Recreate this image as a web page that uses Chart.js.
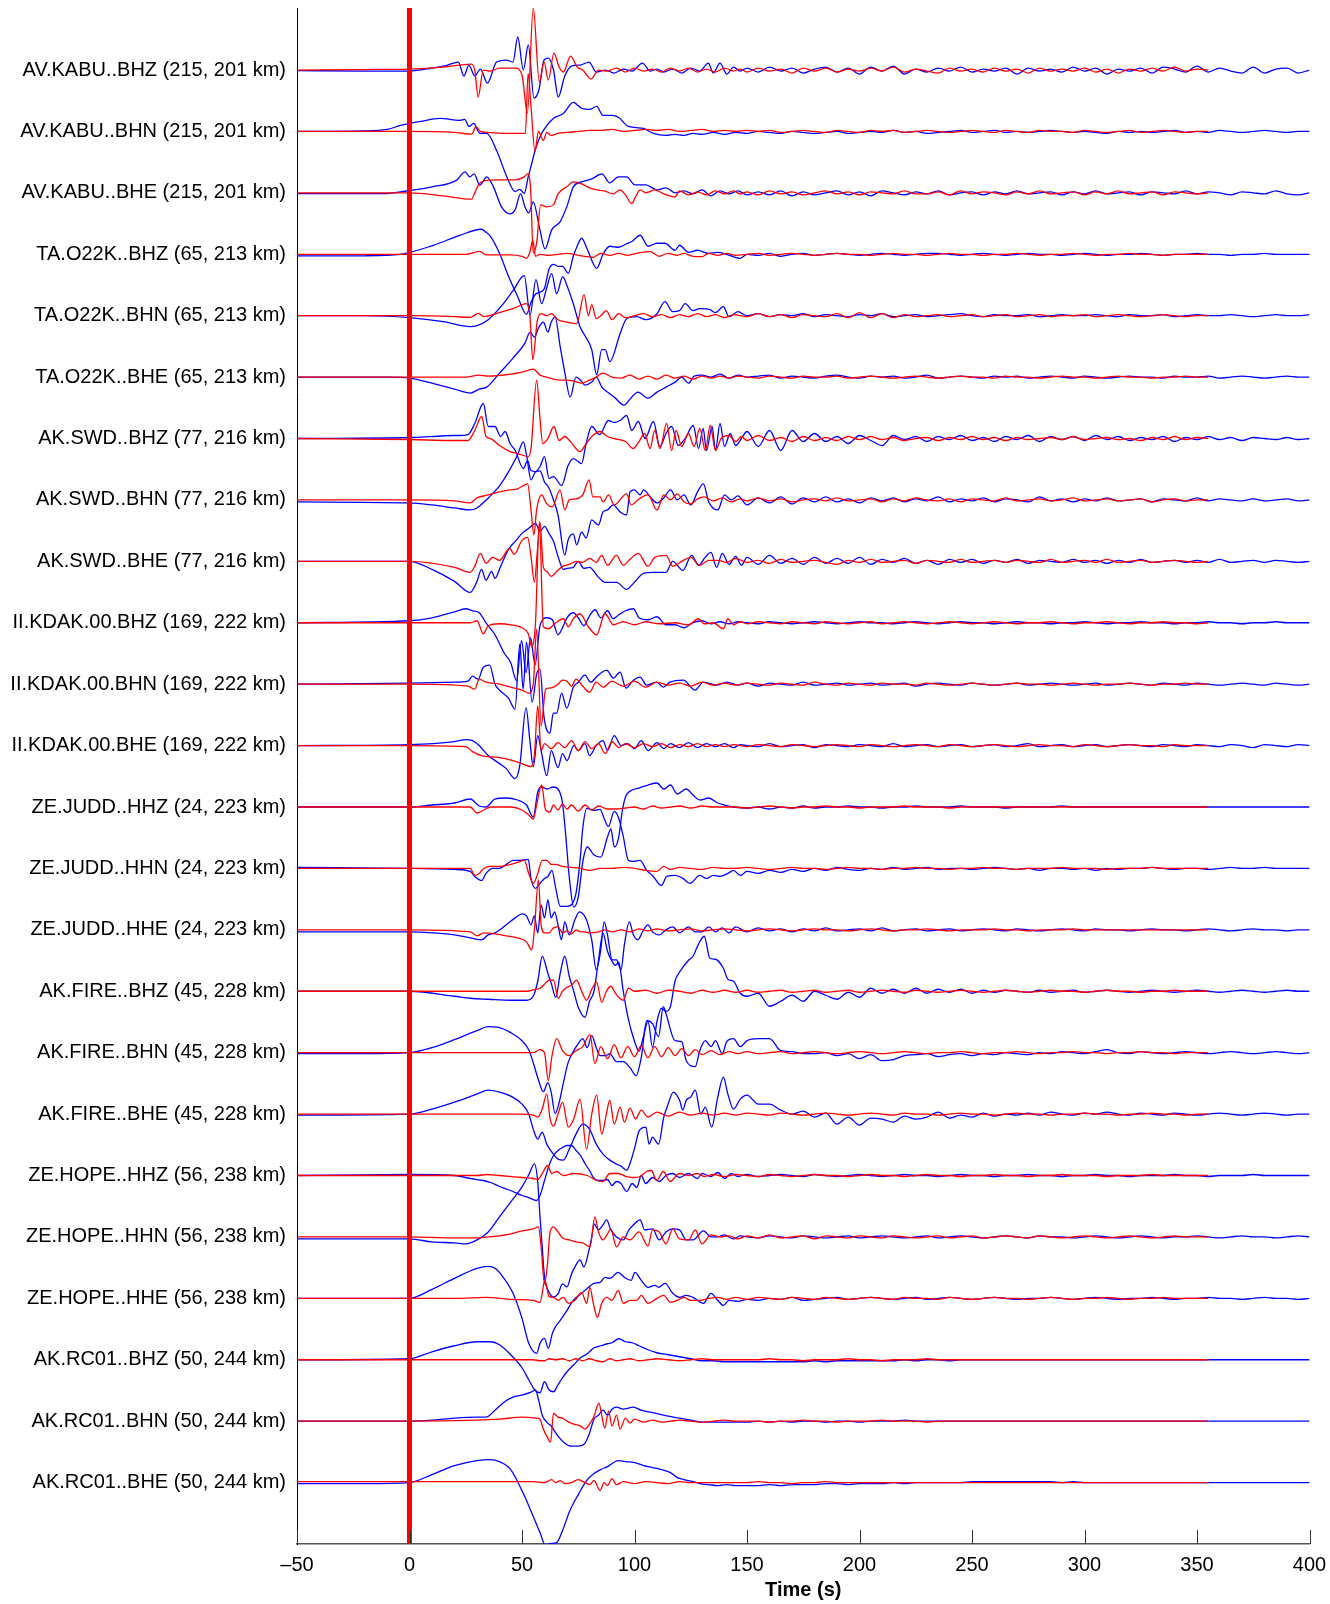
<!DOCTYPE html>
<html>
<head>
<meta charset="utf-8">
<title>Waveform comparison</title>
<script src="https://cdn.jsdelivr.net/npm/chart.js@4.4.0/dist/chart.umd.min.js"></script>
<style>
  html, body { margin: 0; padding: 0; background: #fff; }
  #wrap { width: 1330px; height: 1604px; }
</style>
</head>
<body>
<div id="wrap"><canvas id="traces" width="1330" height="1604"></canvas></div>
<script>
// station labels, top to bottom
const STATIONS = [
  'AV.KABU..BHZ (215, 201 km)', 'AV.KABU..BHN (215, 201 km)', 'AV.KABU..BHE (215, 201 km)',
  'TA.O22K..BHZ (65, 213 km)', 'TA.O22K..BHN (65, 213 km)', 'TA.O22K..BHE (65, 213 km)',
  'AK.SWD..BHZ (77, 216 km)', 'AK.SWD..BHN (77, 216 km)', 'AK.SWD..BHE (77, 216 km)',
  'II.KDAK.00.BHZ (169, 222 km)', 'II.KDAK.00.BHN (169, 222 km)', 'II.KDAK.00.BHE (169, 222 km)',
  'ZE.JUDD..HHZ (24, 223 km)', 'ZE.JUDD..HHN (24, 223 km)', 'ZE.JUDD..HHE (24, 223 km)',
  'AK.FIRE..BHZ (45, 228 km)', 'AK.FIRE..BHN (45, 228 km)', 'AK.FIRE..BHE (45, 228 km)',
  'ZE.HOPE..HHZ (56, 238 km)', 'ZE.HOPE..HHN (56, 238 km)', 'ZE.HOPE..HHE (56, 238 km)',
  'AK.RC01..BHZ (50, 244 km)', 'AK.RC01..BHN (50, 244 km)', 'AK.RC01..BHE (50, 244 km)'
];
const X_TICKS = [-50, 0, 50, 100, 150, 200, 250, 300, 350, 400];

// amplitudes are read in pixels (up = positive) and one trace slot is 61.4 px
const SLOT_PX = 61.4;
// early part of each trace: [t, amp, t, amp, ...]; coda: one value every 5 s from 150 s
const TAIL_T0 = 150, TAIL_DT = 5;
const BLUE_END = 400, RED_END = 355;

// --- AV.KABU ---
const b0 = [-50,-0.5, -20,-1, 0,-1, 10,2, 17,5, 21.7,8, 24.2,-6, 26.4,5, 29,-6, 31.5,1, 34.6,-13, 38.7,8, 43,10, 46,8, 48.1,33, 50.6,0, 52.8,25, 55.3,-28, 57.5,-20, 59.8,10, 61.7,12, 64,0, 66.1,-27, 69,-6, 72,4, 76,5, 79.8,8, 83,-2, 87,0, 91,-3, 95,1, 99,-1, 103.5,7, 107,-1, 110,1, 113,-2, 117,1, 121,-3, 125,2, 129,-1, 132.8,7, 135,-3, 138,7, 141,-4, 144,3, 147,-1];
const b0t = [2,-2,3,-1,2,-3,1,3,-2,2, -4,3,-1,4,-4,1,-2,2,-1,3, -2,1,-1,2,-4,2,-1,1,-2,3, -1,2,-4,1,-1,2,-3,3,1,-2, 4,-2,2,-1,-3,3,-3,1,2,-3, 0];
const r0 = [-50,0, -20,0.5, 0,1, 15,3, 27.5,6, 29,0, 30.5,-27, 32.8,0, 36,-1, 40,2, 47,2, 50,-5, 52.4,-43, 55,62, 57.7,-12, 59.8,8, 61.7,-10, 64.2,17, 66.5,3, 68.4,-2, 71.6,14, 74.5,3, 77,0, 80.7,-9, 84,0, 88,-1, 92,2, 96,-2, 100,2, 104,-1, 108,1, 112,-2, 116,2, 120,-1, 124,2, 128,-2, 132,1, 136,-2, 140,2, 144,-1, 147,1];
const r0t = [-2,2,-1,1,-3,2,-1,2,-2,1, -1,2,-1,3,-2,1,-1,-3,2,-1, 1,-2,2,-1,1,-3,2,-1,1,-1, 2,-2,1,-3,1,-1,2,-1,3,-1, 1,0];

const b1 = [-50,0, -20,0.5, -10,2, -4,6, 5,10, 13.6,13, 22.4,11, 24.5,12, 26.5,5, 28.5,8, 31.3,-2, 34.3,-2, 38.7,-19, 43.2,-45, 46.9,-60, 49,-58, 51,-62, 52.8,-45, 54,-35, 55.8,-19, 57.5,-8, 59.5,1, 63.9,13, 68.4,18, 72.8,29, 76.5,23, 80,22, 83.2,25, 86,16, 90,16, 93,14, 96.5,6, 100,4, 104,3, 108.4,-2, 114,-4, 118,-3, 122,-4, 126,-2, 130,-3, 135,-1, 140,-3, 145,-1];
const b1t = [-2,0,-1,-2,0,-1,-2,-1,0,-2, -1,0,-1,1,-1,0,-2,-1,0,1, -1,0,1,-1,0,-1,0,1,0,-1, 0,-1,-2,0,-1,0,-1,0,1,-1, 0,-1,1,0,-1,0,1,0,-1,0, 0];
const r1 = [-50,0, 0,0, 20,-1, 27.6,-2.7, 29.6,4.7, 31.5,0, 35,-1, 45,-2, 51.5,-2, 52.7,58, 54,25, 55.8,-20, 57.3,0, 59.5,-9, 61,-1, 63,-4, 66,-2, 70,-1, 75,0, 80,1, 85,1, 90,2, 95,0, 100,1, 105,2, 110,1, 115,2, 120,0, 125,1, 130,2, 135,0, 140,1, 145,0];
const r1t = [1,0,1,-1,0,1,0,-1,1,0, -1,1,0,1,-1,0,1,0,-1,0, 1,0,-1,1,0,-1,1,0,0,-1, 1,0,-1,0,1,-1,0,1,0,-1, 0,0];

const b2 = [-50,-0.7, -10,-0.7, -4,1, 10,6, 21,12.7, 24.7,21, 26.8,16, 28.7,19, 31.3,7.7, 34.3,16, 37.3,6, 40.9,-14, 44.7,-21, 46.9,-17, 49.4,-1, 51.3,-14, 53,-20, 55,-9, 57.7,-34, 60.2,-56, 63.2,-37, 66.9,-29, 69.9,-14, 72.8,6, 76.5,11, 81,14, 85.5,19, 89,10, 92.8,16, 96.5,16, 100.2,8, 105,8, 110,3, 114,5, 118,0, 122,2, 126,-1, 130,3, 134,-3, 138,2, 142,-1, 146,2];
const b2t = [-2,1,-2,2,-3,1,-2,0,2,-2, 1,-3,2,0,-2,1,-1,2,-2,0, 1,-2,1,-1,2,-1,0,1,-2,1, -1,2,-1,0,1,-2,1,0,-1,2, -1,1,0,-2,1,0,-1,2,-1,-2, 0];
const r2 = [-50,0, 0,0, 15,-3, 27.6,-6.3, 29,0, 30.6,7.7, 33,12, 40,13, 47,13, 51,16, 52.5,19, 53.8,5, 55,-60, 56.5,-50, 58.3,-12, 61,-14, 64,-12, 66,-1, 69.9,6, 72.8,11, 76.5,9, 80,5, 83.2,3, 86.5,2, 90.6,-1, 93.5,3, 96,-2, 98.7,-10.7, 100.5,-4, 102.5,3, 105,0, 109,3, 113,-1, 118,-4, 120,2, 124,-2, 128,1, 132,-2, 136,2, 140,-1, 144,2, 147,-1];
const r2t = [1,-2,2,-1,1,-2,0,2,-1,1, -2,1,0,-1,2,-1,-1,1,-2,2, -1,1,0,-2,1,-1,2,-1,0,1, -2,1,-1,2,-1,0,1,-2,1,0, -1,0];

// --- TA.O22K ---
const b3 = [-50,-1.7, -20,-1.5, -4,0, 10.6,9, 22.4,19, 32,25, 34,22, 36,18, 40,1, 44,-22, 48,-42, 52,-60, 54,-48, 56,-40, 58,-38, 60,-34, 62,-15, 64,-10, 66,-12, 68,-12, 70.6,-19, 72.8,-2, 74.5,8, 76.5,16, 79,5, 83.2,-14, 86,0, 89,8, 92.8,7, 96,10, 99,13, 102.5,19, 106,8, 110,11, 113.5,11, 118,4, 120,9, 124,2, 128,4, 133,1, 137,2, 141,0, 147,-4];
const b3t = [0,-1,1,-2,0,1,-1,0,1,0, -1,0,1,0,-1,0,1,1,0,-1, 0,1,0,-1,0,1,0,0,-1,0, 1,0,-1,0,0,1,0,-1,0,0, 1,0,0,-1,0,0,1,0,0,0, 0];
const r3 = [-50,0, 0,0, 25,0, 31.3,3, 34,-0.5, 45,-0.5, 50,-2, 52,-4, 53.5,2, 54.8,14, 56,-2, 58,0, 62,-1, 66,0, 70,1, 75,-1, 78,-2, 81.7,-3, 85,1, 89,-1, 93,1, 97,-1, 101,1, 107,2.7, 111,-2, 115,1, 119,-1, 122,1, 126,-2, 130,-2.3, 133,1, 137,-1, 141,1, 145,-1];
const r3t = [0,1,-1,0,1,0,-1,0,1,0, 0,-1,0,1,0,0,-1,0,1,0, 0,-1,0,0,1,0,-1,0,0,1, 0,-1,0,0,1,0,0,-1,0,0, 0,0];

const b4 = [-50,0, -20,0, 0,-2, 15,-6, 27,-11, 30,-10, 35,-4, 41,10, 46,25, 51,40, 53.6,1, 56.2,36, 58.7,12, 61,28, 63.2,42, 65.4,22, 68.1,39, 70,30, 72.8,12, 75.8,-11, 78,-20, 81,-34, 83.2,-59, 85.4,-34, 87,-34, 89,-46, 93.6,-18, 96.5,-3, 101,-1, 105,-4, 110,2, 113.5,14, 117,4, 120,5, 122.5,12, 126,5, 129,7, 133.6,6, 136,3, 139.5,9, 142,-1, 146,4];
const b4t = [0,2,-1,1,0,2,-1,1,0,-1, 1,0,2,-1,0,1,-1,0,1,2, 0,-1,1,0,0,1,-1,0,1,0, 0,1,0,-1,1,0,0,1,-1,0, 1,0,0,1,0,-1,0,1,0,0, 1];
const r4 = [-50,0, 0,0, 20,-1, 27,-1.7, 30.6,2.3, 33,-1, 40,3, 46,7, 52,12, 53.5,0, 54.8,-44, 56.8,-5, 58.5,2, 61,0, 63,2, 66,-4, 69,-6, 71,-7, 74.3,-8, 77.6,21, 79.5,0, 81,11, 83,-3, 85,0, 87.5,5, 90,-4, 93,2, 96,-2, 100,0, 104,2, 108,-1, 112,1, 116,-2, 120,1, 124,-1, 128,2, 132,-1, 136,1, 140,-2, 144,1];
const r4t = [-1,2,-1,1,-2,1,0,-1,2,-2, 3,-2,2,-2,1,-1,0,1,-1,0, 1,-1,0,1,-1,0,1,-1,0,0, 1,-1,0,1,0,-1,0,1,0,-1, 0,0];

const b5 = [-50,0, -10,0, 0,-1, 10,-6, 20,-12, 27,-16, 31,-12, 34.3,-10, 40,4, 46,19, 51.3,34, 53.6,45, 55.5,40, 57.5,50, 59.5,55, 61.5,45, 63,55, 64.7,60, 67,30, 69,5, 71.4,-20, 74,0, 76,-3, 78,-8, 81,-5, 83,0, 85.5,-10, 88,-15, 91,-20, 95.4,-28, 98,-22, 101.5,-15, 106,-21, 110,-15, 114,-10, 118,-5, 121,0, 124,-6, 126.5,1, 130,2, 134,0, 138,3, 142,-1, 146,2];
const b5t = [0,1,2,-1,1,0,-1,1,2,0, -1,1,0,1,-1,0,2,-1,0,1, 0,-1,1,0,1,-1,0,1,0,-1, 1,0,-1,0,1,0,0,-1,1,0, 0,1,-1,0,1,0,-1,0,1,0, 0];
const r5 = [-50,0, 0,0, 25,0, 31,2, 35,1, 45,3, 50,5, 55,8, 58,2, 61,0, 64,-2, 67,-3, 70,-3, 73,-4, 76.5,-6, 80,-3, 83,0, 86,4, 90,0, 94,-1, 98,2, 102,-2, 106,1, 110,-2, 114,2, 118,-1, 122,1, 126,-2, 130,1, 134,-1, 138,1, 142,-1, 146,1];
const r5t = [0,-1,1,0,-1,1,0,0,1,-1, 0,1,0,-1,0,1,0,-1,0,1, 0,0,-1,1,0,0,-1,0,1,0, 0,-1,0,1,0,0,-1,0,0,1, 0,0];

// --- AK.SWD ---
const b6 = [-50,0, 0,1, 20,3, 26,4, 29,15, 32.8,35, 35,12, 38,12, 40.5,2, 42.5,7, 44.7,-5, 47,-12, 50.6,-30, 52.5,-22, 54,-32, 56,-33, 58,-28, 60,-18, 62,-40, 64,-38, 67.6,-47, 70.5,-27, 72.8,-20, 76.5,-25, 78.5,-5, 81,12, 84.5,4, 88.4,18, 91,16, 93.6,18, 96.5,23, 98.8,8, 101.7,17, 104.7,0, 108.4,17, 111.3,-8, 114,5, 116.5,12, 119.5,-7, 122.5,0, 126.1,13, 128.5,-10, 130.5,10, 132,-12, 134.5,12, 136,-12, 138,15, 140,-8, 142.5,5, 145,-7, 147.5,0];
const b6t = [7,-8,8,-12,8,-3,5,-3,2,-5, 3,-2,-7,3,-1,2,-3,2,-1,3, -2,1,-3,2,-1,3,-3,2,-1,2, -2,3,-1,2,-2,1,-1,2,-3,1, -1,2,-1,1,-2,1,0,-1,1,-1, 0];
const r6 = [-50,0, 0,-1, 20,-2, 26,-2, 29,8, 32.1,22, 34,2, 36,0, 40,-7, 44.7,-13, 48,-15, 52.8,-18, 54,-10, 56.5,58, 58,20, 59.2,-5, 61.5,0, 64.2,12, 66.5,-2, 69,2, 71.5,-3, 75.8,-13, 78,-7, 81,2, 84.7,7, 88,2, 91,0, 96,-3, 99.5,-10, 102,-3, 104.5,5, 106.9,-10, 109,8, 111.3,-10, 114.3,15, 116.5,-12, 118.5,8, 121,-8, 124,5, 126.5,-8, 129,10, 131.5,-12, 133.6,13, 136,-12, 138.5,0, 142,3, 145,-3, 147.5,2];
const r6t = [-2,3,-2,1,-3,2,-2,1,-2,2, -1,2,-1,1,-2,0,1,-2,1,-1, 2,-1,1,-2,1,-1,0,1,-1,2, -1,0,1,-1,0,-2,1,-1,2,-1, 1,0];

const b7 = [-50,-2, 0,-3, 10,-5, 20,-8, 27,-10, 30,-8, 35,2, 40,14, 44,28, 48,45, 50.6,58, 52,45, 54,20, 56,28, 58,29, 60,18, 62,12, 64,0, 66,-15, 69,-55, 70.5,-40, 72.8,-34, 74.3,-45, 76.5,-32, 78.5,-38, 81,-20, 84,-25, 86,-12, 88,-10, 90.5,-5, 93.6,-12, 96.5,-15, 98,8, 100,10, 102.5,5, 104,10, 107,3, 110,-3, 113,2, 116,10, 119,0, 122,5, 125,-5, 128,8, 130.6,16, 133,-2, 137,-10, 140,5, 143,0, 146,4];
const b7t = [-5,2,-3,3,-4,2,-2,3,-2,1, -3,2,-1,2,-2,1,-1,3,-2,1, -1,2,-2,1,0,-2,3,-1,1,-2, 1,-1,2,-1,0,1,-2,1,0,-1, 2,-1,1,0,-1,1,-1,0,1,-1, 0];
const r7 = [-50,0, 0,0, 20,-1, 27,-3, 30,2, 35,5, 40,8, 44.7,10, 48,11, 52.5,16, 54,-10, 55.3,-35, 56.5,-10, 58.7,5, 61,-4, 63.5,-7, 66.9,10, 69,-10, 71,0, 73.5,1, 77,5, 79.8,20, 81.5,3, 84.7,3, 86,-2, 88.5,5, 91,-5, 96.5,6, 98.5,-5, 102,1, 106,5, 110,-10, 113,5, 116,0, 119,6, 122,-2, 125,-4, 128,1, 131,3, 135,-1, 139,2, 143,-2, 147,1];
const r7t = [-1,2,-1,1,-2,0,1,-1,2,-1, 0,1,-2,1,-1,2,0,-1,1,-2, 1,0,-1,2,-1,0,1,-1,0,2, -1,0,1,-1,0,1,-2,0,1,-1, 0,0];

const b8 = [-50,0, 0,0, 10,-8, 20,-20, 27,-31, 30,-20, 32,-8, 34,-19, 36.5,-10, 38,-17, 40.5,-5, 44,12, 47,20, 50,28, 53,33, 56,38, 58,30, 60,35, 62,28, 64,20, 66,5, 68.4,-8, 70,-7, 72.8,-6, 75,0, 77.5,-7, 80,-6, 84,-16, 87,-21, 92,-21, 96.5,-28, 99.5,-22, 104,-12, 108.5,-11, 114,-11, 117,0, 121.5,-9, 125.4,6, 128.5,-4, 131.4,4, 134,9, 136.5,-6, 139,8, 142,-3, 145,5, 147.5,-4];
const b8t = [4,-3,6,-2,3,-3,4,-2,3,-2, 4,-3,2,-1,3,-2,1,-3,2,-1, 2,-2,1,-1,2,-2,1,0,-1,2, -1,1,-2,1,-1,2,-1,0,1,-1, 1,-1,2,-1,0,1,-1,1,0,-1, 0];
const r8 = [-50,0, 0,0, 20,-6, 27,-11, 29,-5, 31.5,8, 34,-2, 37,4, 40,1, 44.5,13, 46.5,7, 50,21, 52.5,24, 54,5, 55.5,-21, 56.8,10, 58,39, 59.5,-6, 61,-10, 63,-15, 65.5,-10, 68,-5, 71,-3, 74,0, 77,-1, 80,3, 83,-1, 85.4,6, 88,-4, 92,6, 95,-4, 98,2, 101.7,8, 106,-5, 109,4, 114,6, 117,-5, 121,0, 125,4, 129,-4, 133,1, 137,1, 141,-1, 145,3];
const r8t = [-1,1,-2,2,-1,0,1,-1,-3,1, -1,2,-1,0,1,-2,1,0,-1,2, -1,0,1,-1,1,0,-1,2,-1,0, 1,-1,2,-1,0,1,-1,0,1,0, -1,0];

// --- II.KDAK ---
const b9 = [-50,0, 0,2, 10,5, 20,11, 25,14, 28,12, 31,10, 34,0, 38,-12, 42,-30, 45,-40, 47.6,-58, 49.8,-18, 51.8,-50, 53.8,-15, 55.8,-42, 58,-3, 61,5, 63.5,3, 66,-12, 68,-5, 70,5, 72.8,10, 75,5, 77.5,-3, 80,7, 82.5,13, 85,5, 88,12, 90.5,4, 93,8, 96,12, 99.5,14, 102,5, 106,3, 110,6, 114,-2, 118,-2, 122,-5, 126,0, 130,2, 134,-1, 138,1, 142,-1, 146,1];
const b9t = [0,-1,1,0,-1,0,1,0,-1,0, 1,0,0,-1,0,1,0,-1,0,1, 0,0,-1,0,1,0,0,-1,0,0, 1,0,-1,0,0,1,0,0,-1,0, 0,1,0,0,-1,0,0,1,0,0, 0];
const r9 = [-50,0, 0,0, 27,0, 30,2, 32.8,-11, 35,-3, 40,-1, 45,-2, 50,-5, 52.8,-11, 54.3,-24, 56,0, 57.7,101, 59.5,-4, 61.7,-6, 65,0, 68.4,4, 70.6,-4, 72.8,4, 75.8,9, 79.5,-4, 83.2,-12, 86.9,9, 90.6,-2, 95,1, 100,-2, 105,1, 111,-1, 118,0, 124,-2, 128.4,4, 131,-1, 135,0, 139.5,-6, 141.5,4, 144,-2, 147,1];
const r9t = [-1,1,0,-1,1,0,-1,1,0,-1, 0,1,-1,0,1,0,-1,0,1,0, -1,0,1,0,-1,0,0,1,0,-1, 0,0,1,0,-1,0,0,1,0,0, -1,0];

const b10 = [-50,0, 0,1, 20,2, 26,3, 28,8, 30.5,5, 32.8,17, 35.6,19, 38,0, 40,-6, 44,-14, 46.9,-25, 49,40, 50.5,-5, 52,42, 54.5,-18, 56.5,10, 58,15, 59.8,-33, 62.4,-49, 63.9,-29, 65.4,-29, 67.6,-9, 69.9,-24, 72.8,-3, 75,2, 78,9, 80.5,2, 83,7, 85,11, 87.6,14, 90.6,6, 93.6,12, 96.2,-4, 99.5,4, 102.5,7, 105.4,-1, 109.8,2, 112.8,-3, 115.8,2, 121.7,4, 126.9,-6, 130.6,2, 136.5,-1, 141,2, 146,-1];
const b10t = [1,-2,1,0,-1,2,-1,0,1,-1, 0,1,-1,0,1,-2,0,1,0,-1, 1,0,-1,0,1,-1,0,1,0,-1, 0,1,-1,0,1,0,-1,1,0,-1, 1,0,-1,0,1,0,-1,1,0,-1, 0];
const r10 = [-50,0, 0,0, 26,-2, 29,-5, 31,5, 34,2, 40,0, 45,-3, 50,-6, 53,-9, 55,0, 56.5,55, 58.5,-42, 60.5,-5, 62,-4, 64,-3, 66,0, 68,4, 70,3, 72,-2, 74,5, 77,-2, 80,-8, 83,2, 86,-3, 90,3, 95,-2, 100,3, 105,-3, 110,2, 115,-1, 120,1, 125,-2, 130,2, 135,-1, 140,1, 145,-1];
const r10t = [1,0,-1,1,0,-1,2,0,-1,1, 0,-1,1,0,0,-1,1,0,-1,0, 1,0,-1,0,1,0,0,-1,0,1, 0,-1,0,0,1,0,-1,0,0,1, 0,0];

const b11 = [-50,0, 0,1, 20,4, 25,6, 28,5, 31,0, 35,-10, 40,-18, 43,-23, 46.9,-33, 49,-20, 51.8,38, 53.5,5, 55,-21, 57,10, 58.5,-5, 61,-30, 63,-5, 66,-22, 68,-8, 70,-15, 73,0, 75,-5, 78,2, 80,-10, 83,0, 86,5, 88,-5, 91,10, 94,0, 97,2, 100,-3, 103,5, 106,-5, 110,3, 113,-3, 116,2, 120,-2, 124,3, 128,-2, 132,2, 136,-1, 140,2, 144,-2, 147,1];
const b11t = [0,-1,2,-1,0,1,-2,1,0,-1, 1,0,-1,2,-1,0,1,-1,0,1, -1,0,1,-1,0,2,-1,0,1,-1, 0,1,-1,0,1,0,-1,1,0,-1, 1,0,-1,1,0,-2,1,0,-1,1, 0];
const r11 = [-50,0, 0,0, 25,-1, 28,-6, 32,-10, 40,-12, 46,-15, 50,-18, 54,-21, 55.5,-10, 57,40, 58.5,-5, 60,2, 63,-3, 66,3, 69,-2, 72,5, 75,-5, 78,4, 81,-3, 84,2, 87,-8, 90,4, 93,-2, 96,2, 100,-2, 104,2, 108,-1, 112,2, 116,-2, 120,1, 124,-1, 128,2, 132,-1, 136,1, 140,-1, 144,1];
const r11t = [-1,1,0,-1,1,0,-1,0,1,0, -1,1,0,-1,0,1,0,-1,1,0, -1,0,1,0,-1,0,1,0,0,-1, 1,0,-1,0,1,0,0,-1,1,0, 0,0];

// --- ZE.JUDD ---
const b12 = [-50,0, 0,0, 10,2, 20,4, 27,8, 31,1, 34,0, 38,8, 43,9, 48,7, 52,2, 55,-10, 57,15, 59,20, 61,18, 64,20, 66,18, 68,4, 69.5,-30, 71,-70, 73,-100, 75,-90, 77,-55, 79,-40, 82,-48, 85,-50, 88,-30, 89.5,-22, 91,-40, 93,-30, 94.5,-5, 96,10, 99,17, 102,19, 106,22, 110,24, 113,18, 116,22, 119,13, 123,18, 126,12, 129,7, 133,9, 137,4, 140,2, 144,0];
const b12t = [-1,0,-2,0,-1,1,-1,0,0,1, 0,0,-1,0,0,1,0,0,0,1, 0,0,0,-1,0,0,0,0,1,0, 0,0,0,0,0,0,0,0,0,0, 0,0,0,0,0,0,0,0,0,0, 0];
const r12 = [-50,0, 0,0, 27,0, 30,-6, 33,-3, 36,0, 45,0, 50,-3, 53,-8, 55,-12, 56.5,2, 58.7,22, 60.5,-3, 62.4,-5, 64,2, 66,-3, 68,3, 70,-2, 72,2, 75,-4, 78,2, 81,-3, 84,1, 88,-2, 92,-2, 96,-1, 100,0, 104,-2, 108,1, 112,-1, 116,0, 120,1, 125,-1, 130,1, 135,0, 140,0, 145,0];
const r12t = [-1,0,1,0,-1,0,0,1,0,0, -1,0,0,0,1,0,0,0,-1,0, 0,0,0,0,0,0,0,0,0,0, 0,0,0,0,0,0,0,0,0,0, 0,0];

const b13 = [-50,1, 0,0, 20,-1, 27,-3, 29,-8, 32.1,-12, 34,-5, 37,0, 40,0, 43,4, 46,8, 49,8, 52.8,9, 54,-10, 56,-20, 58,-15, 60,-10, 61.5,-8, 63.3,-2, 65,-20, 67,-38, 70,-38, 72.5,-35, 74,-25, 75.8,8, 77,40, 78.8,60, 82,58, 84.7,59, 86.5,50, 88.4,42, 91,57, 93,50, 95,32, 97.3,8, 99.5,7, 102.5,8, 105.4,-2, 108,-7, 112,-17, 114.3,-8, 118,-7, 121.5,-10, 124.7,-15, 129,-7, 132,-10, 135,-7, 138,-8, 141.5,-5, 144,-2, 147,-7];
const b13t = [-3,-5,-2,-4,-1,-3,0,-2,1,-1, -2,0,-1,1,-1,0,1,-1,0,0, -1,0,1,0,-1,0,-2,0,0,-1, 0,-2,0,-1,0,0,1,0,-1,0, 0,-1,0,1,0,0,1,0,0,0, 0];
const r13 = [-50,0, 0,0, 27,0, 29,-7, 31,-5, 33,0, 36,2, 40,2, 45,4, 48,6, 51,8, 53,-5, 55,-15, 57,-5, 59,8, 61,8, 63,4, 65,4, 68,2, 72,1, 76,0, 80,-2, 85,0, 90,0, 95,1, 100,0, 105,-2, 110,-3, 113,2, 116,-1, 120,1, 125,0, 130,-1, 135,1, 140,0, 145,0];
const r13t = [1,0,-1,0,1,0,0,-1,0,1, 0,0,-1,0,0,1,0,0,-1,0, 0,1,0,0,-1,0,0,0,1,0, 0,0,-1,0,0,0,1,0,0,0, 0,0];

const b14 = [-50,-2, 0,-2, 10,-3, 20,-5, 27,-8, 32,-10, 35,-5, 38,-3, 43,5, 47,12, 50,16, 52,14, 54,5, 55.5,14, 57,-3, 58.5,25, 60,12, 61.5,30, 63,12, 64.5,18, 66,5, 67.5,-10, 69,8, 71,-5, 73.5,10, 75.5,18, 77.5,15, 79,8, 81,-10, 83,-40, 85,-20, 86.5,8, 88,-5, 90,-30, 92,-30, 94,-40, 95.5,-15, 97.7,8, 99.5,-5, 101.5,-10, 104,0, 106,5, 108,-2, 111,-5, 114,0, 117,3, 120,-3, 124,3, 127,-2, 130,-2, 133,3, 136,-2, 139,2, 142,-3, 145,3];
const b14t = [-2,2,-1,1,-2,1,-1,2,-1,0, 1,-1,2,-1,0,1,-1,0,1,-1, 0,1,0,-1,1,0,-1,0,1,0, -1,1,0,0,-1,0,1,0,0,-1, 0,1,0,-1,0,1,0,0,-1,0, 0];
const r14 = [-50,0, 0,0, 27,-2, 30,-6, 33,-3, 38,-4, 43,-6, 48,-8, 52,-12, 54.3,-20, 55.5,0, 57.3,50, 58.5,5, 60,-3, 62,-3, 64,2, 66,3, 68,-3, 70,-1, 72,-4, 74,0, 76,-2, 78,-2, 80,-3, 84,-2, 87,0, 90,-2, 94,0, 98,-2, 102,1, 106,-1, 110,1, 115,-1, 120,0, 125,1, 130,-1, 135,0, 140,1, 145,0];
const r14t = [-1,0,1,0,-1,0,1,0,0,-1, 0,1,0,-1,0,0,1,0,-1,0, 0,0,1,0,0,-1,0,0,0,1, 0,0,0,0,0,0,0,0,0,0, 0,0];

// --- AK.FIRE ---
const b15 = [-50,0, 0,0, 20,-5, 27,-7, 35,-8, 45,-9, 52,-9, 55,-5, 57,10, 59,35, 61.5,18, 63,8, 65,-6, 67,18, 69,35, 71,15, 73,0, 75,-16, 78,-26, 80,-10, 82,0, 84,31, 86,58, 88,40, 90,30, 91.5,26, 93,29, 95,0, 97,-25, 100,-50, 102,-60, 104,-45, 106,-30, 108,-56, 110,-30, 112,-17, 114,-20, 116,-15, 118,10, 120,19, 124,31, 126,35, 128,45, 131,55, 133.5,33, 136,32, 139.5,23, 141.5,12, 144,10, 147,-2];
const b15t = [-5,-2,-15,-10,-4,-10,0,-4,-8,-1, -6,3,-2,2,-2,3,-2,2,-1,2, -2,1,-1,1,0,-1,1,-1,0,1, -1,0,1,0,-1,0,1,0,-1,0, 1,0,-1,0,1,0,-1,0,1,0, 0];
const r15 = [-50,0, 0,0, 40,0, 52,0, 56,2, 58,3, 60,7, 62,11, 64,11, 66.1,-7, 68,0, 70,4, 72,6, 74.3,11, 76.5,0, 78.7,-9, 81,2, 83.2,9, 85.4,-11, 87.5,0, 89.5,5, 91.5,-2, 95,-9, 97.3,3, 100,0, 105,1, 110,-2, 115,1, 120,0, 125,-2, 130,1, 135,-1, 140,1, 145,-1];
const r15t = [1,-1,0,1,-1,0,1,-1,0,1, -1,0,1,0,-1,1,0,-1,0,1, 0,-1,0,1,0,-1,0,1,0,0, -1,0,1,0,0,-1,0,0,1,0, 0,0];

const b16 = [-50,-1, -20,-1, 0,0, 10,5, 20,13, 30,22, 35,26, 40,25, 45,20, 50,12, 53,3, 55,-10, 57,-25, 59.5,-39, 61.5,-30, 63,-40, 64.7,-61, 66.5,-50, 68.4,-30, 70.5,-10, 72.5,0, 75,9, 77,14, 79,5, 81,17, 83,5, 84.7,-3, 87,-3, 89,-1, 92,-9, 95,-9, 98,-15, 100.7,-23, 103,-5, 105.4,32, 108,29, 110.7,16, 112.8,46, 114,39, 118,12, 121,11, 123,-8, 127,-14, 129,2, 131.5,12, 134,6, 136,12, 139,-1, 141,11, 144,14, 147,6];
const b16t = [12,14,14,2,1,-1,-1,0,-3,-1, -6,-2,-8,-7,-3,-2,-1,-4,-2,-1, -3,-1,-2,0,-1,-2,0,-1,1,0, -1,1,3,0,-1,1,0,-1,0,1, 0,-1,0,1,0,-1,0,1,0,-1, 0];
const r16 = [-50,0, 0,0, 40,0, 55,0, 58,3, 60,0, 61.7,-28, 63.2,-5, 65.4,14, 68,2, 71,-3, 74,2, 77,6, 80.2,18, 82.4,-11, 85,6, 88,-6, 91,8, 94,-5, 97,6, 100,-4, 103,7, 106,-5, 109,6, 112,-4, 115,5, 118,-3, 121,4, 124,-3, 127,3, 130,-2, 134,2, 138,-2, 142,1, 146,-1];
const r16t = [1,-1,0,1,-1,0,1,0,-1,0, 1,0,-1,0,1,0,-1,0,0,1, 0,-1,0,0,1,0,-1,0,0,1, 0,0,-1,0,0,1,0,0,-1,0, 0,0];

const b17 = [-50,-1, 0,0, 10,5, 20,12, 30,20, 35,24, 40,22, 45,18, 50,10, 53,0, 55,-15, 57,-25, 59,-18, 61,-30, 64,-40, 66,-45, 68.4,-46, 71,-35, 74,-20, 77,-10, 80,-15, 83,-30, 86,-40, 89,-46, 92,-50, 94,-52, 96.5,-56, 98.5,-46, 100.5,-30, 102,-17, 105,-13, 106.5,-30, 108,-23, 110.7,-30, 113,-3, 114.5,7, 117.3,22, 120,14, 121.5,4, 123,14, 125,17, 127,24, 129.5,0, 131.5,7, 134.3,-13, 137,17, 139.5,37, 141.5,20, 144,5, 147,15];
const b17t = [19,10,10,4,0,3,-3,1,-10,-3, -11,-4,-5,-8,-2,-5,-3,2,-4,-1, -3,1,-2,0,-1,1,-1,2,0,-1, 1,0,2,0,-1,1,0,-1,1,0, -1,0,1,0,-1,0,1,0,-1,0, 0];
const r17 = [-50,0, 0,0, 50,0, 55,-1, 57,-3, 59,5, 61,20, 62.5,-5, 64,-12, 66,0, 68,12, 70.6,-13, 73,-5, 75.8,15, 78.7,-35, 81,0, 83.2,19, 85.4,-20, 87.5,0, 89,14, 91,-10, 93.6,7, 95.5,-8, 98,6, 100.5,-5, 103,4, 106,-3, 110,2, 115,-2, 120,2, 125,-1, 130,1, 135,-1, 140,1, 145,-1];
const r17t = [1,0,-1,1,0,-1,0,1,0,-1, 0,1,0,-1,1,0,0,-1,0,1, 0,0,-1,0,1,0,0,-1,0,0, 1,0,0,-1,0,0,1,0,0,-1, 0,0];

// --- ZE.HOPE ---
const b18 = [-50,0, 0,1, 20,0, 27,-3, 32.8,-5, 36,-7, 40,-11, 45,-15, 50,-20, 53,-22, 56.5,-25, 58,-20, 60,-5, 62,10, 64,20, 66,25, 68,28, 70,30, 72,30, 74,25, 76,20, 78,12, 80,5, 82,-3, 84,-5, 86,-5, 88,-4, 90,-10, 92,-6, 94,-8, 96.5,-16, 99,-8, 101,-12, 103,0, 105,-8, 108,-2, 111,-6, 114,0, 117,2, 120,-2, 124,2, 128,-3, 130,2, 134,-1, 137,3, 140,-3, 143,2, 146,-1];
const b18t = [1,-1,0,1,0,-1,1,0,-1,0, 1,0,-1,0,1,0,0,-1,0,1, 0,0,-1,0,0,1,0,0,-1,0, 0,1,0,0,-1,0,0,0,1,0, 0,-1,0,0,0,1,0,0,0,0, 0];
const r18 = [-50,0, 0,0, 30,0, 34.3,1, 40,0, 50,-2, 55,-3, 57,-4, 59,2, 61.4,10, 63.2,2, 65.4,4, 68.4,0, 72.8,2, 79,0, 83.2,-5, 86,-6, 89,2, 92.8,2, 96.5,-1, 100,-2, 102.5,-1, 105.4,4, 107.5,5, 109.8,-5, 112.8,4, 115.8,-6, 120,2, 124,0, 128,2, 131,-1, 135,1, 140,-1, 145,1];
const r18t = [0,-1,1,0,-1,0,1,0,0,-1, 0,1,0,0,-1,0,1,0,0,-1, 0,0,1,0,0,-1,0,0,1,0, 0,0,-1,0,0,0,1,0,0,0, 0,0];

const b19 = [-50,-2, 0,-2, 10,-5, 20,-6, 25,-7, 30,-3, 35,5, 40,20, 45,35, 50,50, 53,62, 55.5,73, 57,55, 58,20, 59,-10, 60,-40, 62,-55, 64,-60, 66,-57, 68,-47, 70,-50, 72,-37, 74,-28, 75.8,-23, 77.5,-30, 79.8,-13, 81,0, 82,13, 84,7, 86,12, 87.6,17, 89.5,7, 92,0, 95,-3, 97.5,7, 99.5,12, 102.5,17, 104.5,7, 108,8, 111,-3, 114,5, 117,8, 120,7, 123,-3, 126,-3, 130.6,6, 134,0, 137,0, 140,2, 144,-2, 147,1];
const b19t = [0,-1,1,0,-1,1,0,-1,0,1, -1,0,1,0,-1,0,1,-1,0,1, 0,-1,0,1,0,-1,1,0,0,-1, 0,1,0,-1,0,1,0,-1,0,0, 1,0,-1,0,1,0,0,-1,0,1, 0];
const r19 = [-50,0, 0,0, 20,-1, 30,-1, 35,0, 40,1, 45,3, 50,6, 55,8, 57.3,10, 58.5,-10, 60,-47, 61.2,-30, 62.5,5, 64,10, 66,5, 68,-1, 71,-3, 74,-5, 77,-6, 80.2,-10, 82.4,20, 84,5, 86,-3, 88,3, 89.4,8, 92,-10, 95,0, 98,-3, 102,5, 106,-9, 108,7, 111,5, 114,-7, 117,8, 120,-2, 124,-3, 127,7, 130,-7, 134,2, 138,0, 142,1, 146,-2];
const r19t = [1,-1,2,-1,0,1,-2,1,0,-1, 1,0,-1,1,0,-1,0,1,-1,0, 1,-1,0,1,0,-1,1,0,-1,0, 1,0,-1,0,1,0,-1,0,1,0, 0,0];

const b20 = [-50,0, 0,0, 10,9, 20,20, 30,30, 35,32, 38,30, 42,20, 46,5, 50,-20, 53,-45, 56.5,-55, 58,-45, 60,-40, 61.7,-50, 63.5,-35, 65,-28, 67,-22, 70,-12, 72.8,-2, 76.5,5, 79.5,11, 82,15, 84.7,16, 86.9,21, 89,20, 92.8,26, 95.5,21, 98.5,18, 100.2,26, 103,18, 106,11, 109,13, 110.7,11, 113.6,15, 117,5, 120,1, 123,3, 126,1, 130.6,-5, 134,5, 137,-2, 139.5,-7, 142,-2, 146,-3];
const b20t = [-1,-2,0,-1,1,-2,-1,0,1,-1, 0,1,0,-1,0,1,-1,0,1,0, -1,0,1,0,-1,0,0,1,0,-1, 0,1,0,-1,0,0,1,0,-1,0, 0,1,0,0,-1,0,1,0,0,-1, 0];
const r20 = [-50,0, 0,0, 20,0, 34,1, 45,-1, 55,-2, 58,-4, 60.2,18, 62,2, 64,1, 66.1,-2, 68.4,1, 70.6,-5, 73.5,-2, 76.5,6, 78.7,-5, 80.2,11, 81.7,-5, 83.5,-19, 85.4,-5, 87.6,1, 90,-2, 92.8,8, 95,-5, 98,-2, 101,-2, 103,3, 106,-5, 110,0, 113,3, 116,-4, 119,-2, 122,1, 125,-2, 129,-2, 133,0, 137,1, 141,-1, 145,1];
const r20t = [-1,1,0,-1,1,0,-1,1,0,-1, 0,1,0,-1,1,0,0,-1,1,0, -1,0,1,0,0,-1,0,1,0,-1, 0,0,1,0,-1,0,0,1,0,0, 0,0];

// --- AK.RC01 ---
const b21 = [-50,0, 0,1, 10,8, 20,14, 30,18, 36,18, 40,15, 45,5, 50,-8, 53,-20, 56,-31, 58,-33, 60,-22, 62,-30, 64,-32, 66,-25, 68,-18, 70,-12, 73,-5, 76,2, 79,6, 82,12, 85,14, 88,16, 90,17, 93,21, 96,18, 99,17, 102,14, 106,10, 110,7, 115,5, 120,3, 125,1, 130,-1, 135,-1, 140,-2, 145,-2];
const b21t = [-2,-2,-2,-2,-2,-2,-1,-2,-1,-1, -1,-1,-1,-1,0,-1,0,0,-1,0, 0,0,0,0,0,0,0,0,0,0, 0,0,0,0,0,0,0,0,0,0, 0,0,0,0,0,0,0,0,0,0, 0];
const r21 = [-50,0, 0,0, 55,0, 58,-1, 60,-1, 62,1, 65,0, 68,1, 71,-1, 74,1, 77,-1, 80,1, 83,-1, 86,-2, 89,1, 92,-1, 95,0, 98,1, 102,-1, 106,0, 110,1, 115,0, 120,-1, 125,0, 130,1, 135,0, 140,0, 145,0];
const r21t = [0,0,1,0,0,-1,0,0,0,1, 0,0,-1,0,0,0,1,0,0,0, 0,0,0,0,0,0,0,0,0,0, 0,0,0,0,0,0,0,0,0,0, 0,0];

const b22 = [-50,0, 0,0, 10,1, 20,3, 30,4, 34,4, 38,11, 42,19, 46,24, 50,26, 54,29, 56,31, 57.5,20, 59,6, 61,-1, 63,-5, 66,-15, 69,-22, 72,-25, 75,-25, 78,-22, 80,-12, 82,2, 84,6, 86,11, 88,6, 90,12, 92,14, 95,12, 99.5,14, 103,11, 107,9, 111,7, 115,5, 120,3, 125,1, 130,-1, 135,-1, 140,-1, 145,-1];
const b22t = [-1,0,-1,0,-1,0,0,-1,0,0, -1,0,0,0,1,0,0,0,0,0, 0,0,0,0,0,0,0,0,0,0, 0,0,0,0,0,0,0,0,0,0, 0,0,0,0,0,0,0,0,0,0, 0];
const r22 = [-50,0, 0,0, 30,1, 40,2, 50,4, 56.5,3, 58,2, 59.5,-8, 61,-15, 62.7,-21, 64,8, 66,4, 68,3, 70,0, 73,-3, 76,-5, 78,-8, 80,-3, 82,5, 84.2,18, 85.5,5, 86.8,-7, 88.5,10, 90,-5, 92,6, 93.6,-8, 96,3, 98,-2, 100,2, 104,-1, 108,1, 112,-1, 116,0, 120,1, 125,0, 130,-1, 135,0, 140,1, 145,0];
const r22t = [0,0,-1,0,0,1,0,0,-1,0, 0,0,1,0,0,0,-1,0,0,0, 0,0,0,0,0,0,0,0,0,0, 0,0,0,0,0,0,0,0,0,0, 0,0];

const b23 = [-50,-1, -20,-1, 0,0, 10,8, 20,17, 30,22, 35.8,23, 40,21, 45,13, 50.6,-11, 55,-34, 58,-50, 60.5,-63, 62.5,-61, 65.4,-60, 68,-48, 71.3,-28, 75,-12, 78.7,2, 82,9, 85,13, 88,16, 92.8,22, 96,21, 100,20, 104,17, 108,15, 112,13, 116,10, 119,5, 122,3, 126,1, 129,-1, 133,-2, 137,-3, 141,-2, 145,-3];
const b23t = [-3,-3,-2,-3,-2,-2,-2,-1,-1,-2, -1,-1,-1,0,-1,0,0,0,0,0, 1,1,1,1,1,1,1,1,0,1, 0,0,0,0,0,0,0,0,0,0, 0,0,0,0,0,0,0,0,0,0, 0];
const r23 = [-50,1, 0,1, 55,1, 60,0, 63.2,3, 65,0, 67,2, 69,-1, 72,0, 75,3, 78,0, 80,-2, 82,2, 84.7,-8, 86.5,0, 88,-3, 90,4, 92,-2, 95,1, 100,-1, 105,1, 110,0, 115,-1, 120,1, 125,0, 130,0, 140,0, 145,0];
const r23t = [0,1,0,0,-1,0,0,1,0,0, 0,0,0,0,0,0,0,0,0,0, 0,0,0,0,0,0,0,0,0,0, 0,0,0,0,0,0,0,0,0,0, 0,0];

const BLUE = [[b0,b0t],[b1,b1t],[b2,b2t],[b3,b3t],[b4,b4t],[b5,b5t],[b6,b6t],[b7,b7t],[b8,b8t],[b9,b9t],[b10,b10t],[b11,b11t],
              [b12,b12t],[b13,b13t],[b14,b14t],[b15,b15t],[b16,b16t],[b17,b17t],[b18,b18t],[b19,b19t],[b20,b20t],[b21,b21t],[b22,b22t],[b23,b23t]];
const RED = [[r0,r0t],[r1,r1t],[r2,r2t],[r3,r3t],[r4,r4t],[r5,r5t],[r6,r6t],[r7,r7t],[r8,r8t],[r9,r9t],[r10,r10t],[r11,r11t],
             [r12,r12t],[r13,r13t],[r14,r14t],[r15,r15t],[r16,r16t],[r17,r17t],[r18,r18t],[r19,r19t],[r20,r20t],[r21,r21t],[r22,r22t],[r23,r23t]];

const Y_MIN = -1.01, Y_MAX = 24.0;
const FONT = { family: "'Liberation Sans', Arial, sans-serif", size: 20 };

// turn a trace into points: slot i is the baseline, amplitude pushes it up
function toPoints(pair, slot, tEnd) {
    const [head, tail] = pair;
    const pts = [];
    for (let k = 0; k < head.length; k += 2) {
        pts.push({ x: head[k], y: slot - head[k + 1] / SLOT_PX });
    }
    tail.forEach((v, k) => {
        const t = TAIL_T0 + k * TAIL_DT;
        if (t <= tEnd) pts.push({ x: t, y: slot - v / SLOT_PX });
    });
    return pts;
}

function traceSet(pts, color) {
    return {
        data: pts,
        borderColor: color,
        borderWidth: 1.3,
        pointRadius: 0,
        fill: false,
        cubicInterpolationMode: 'monotone'
    };
}

const datasets = [];
// origin-time marker, drawn on top
datasets.push({
    data: [{ x: 0, y: Y_MIN }, { x: 0, y: Y_MAX }],
    borderColor: '#ff0000',
    borderWidth: 5,
    pointRadius: 0,
    tension: 0
});
RED.forEach((p, i) => datasets.push(traceSet(toPoints(p, i, RED_END), '#ff0000')));
BLUE.forEach((p, i) => datasets.push(traceSet(toPoints(p, i, BLUE_END), '#0000ff')));

// matlab-style ticks pointing into the plot
const innerTicks = {
    id: 'innerTicks',
    afterDatasetsDraw(chart) {
        const xs = chart.scales.x;
        const bottom = chart.chartArea.bottom;
        const c = chart.ctx;
        c.save();
        c.strokeStyle = '#333';
        c.lineWidth = 1;
        xs.ticks.forEach(t => {
            const px = Math.round(xs.getPixelForValue(t.value)) + 0.5;
            c.beginPath();
            c.moveTo(px, bottom);
            c.lineTo(px, bottom - 14);
            c.stroke();
        });
        c.restore();
    }
};

new Chart(document.getElementById('traces'), {
    type: 'line',
    data: { datasets },
    options: {
        responsive: false,
        animation: false,
        events: [],
        parsing: false,
        layout: { padding: { top: 8, right: 20.5, bottom: 0, left: 0 } },
        plugins: { legend: { display: false }, tooltip: { enabled: false } },
        scales: {
            x: {
                type: 'linear',
                min: -50,
                max: 400,
                afterBuildTicks: s => { s.ticks = X_TICKS.map(v => ({ value: v })); },
                afterFit: s => {
                    s.height = 60;
                    s.paddingLeft = 0;
                    s.paddingRight = 0;
                },
                ticks: {
                    color: '#000',
                    font: FONT,
                    padding: 9,
                    maxRotation: 0,
                    autoSkip: false,
                    callback: v => (v < 0 ? '\u2013' + Math.abs(v) : String(v))
                },
                grid: { display: false, drawTicks: false },
                border: { display: true, color: '#555', width: 1.5 },
                title: {
                    display: true,
                    text: 'Time (s)',
                    color: '#000',
                    font: { family: FONT.family, size: 20, weight: 'bold' },
                    padding: { top: 0, bottom: 2 }
                }
            },
            y: {
                type: 'linear',
                reverse: true,
                min: Y_MIN,
                max: Y_MAX,
                afterBuildTicks: s => { s.ticks = STATIONS.map((_, i) => ({ value: i })); },
                afterFit: s => {
                    s.width = 297;
                    s.paddingTop = 0;
                    s.paddingBottom = 0;
                },
                ticks: {
                    color: '#000',
                    font: FONT,
                    padding: 11,
                    autoSkip: false,
                    callback: v => STATIONS[Math.round(v)]
                },
                grid: { display: false, drawTicks: false },
                border: { display: true, color: '#000', width: 1 }
            }
        }
    },
    plugins: [innerTicks]
});
</script>
</body>
</html>
